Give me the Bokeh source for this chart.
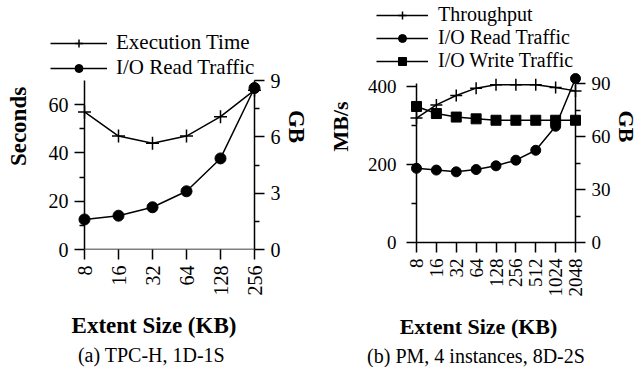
from bokeh.plotting import figure
from bokeh.models import Range1d, LinearAxis, FixedTicker, Legend, LegendItem, Title
from bokeh.layouts import row
from bokeh.embed import file_html
from bokeh.resources import INLINE
import math

FONT = "Liberation Serif"

# ---- (a) TPC-H, 1D-1S ----
extent_a = [8, 16, 32, 64, 128, 256]
exec_time_s = [57, 47, 44, 47, 55, 66]
read_gb_a = [1.6, 1.8, 2.25, 3.1, 4.85, 8.6]
y_ticks_a = [0, 20, 40, 60]
y_minor_a = [10, 30, 50]
gb_ticks_a = [0, 3, 6, 9]
gb_minor_a = [1.5, 4.5, 7.5]

# ---- (b) PM, 4 instances, 8D-2S ----
extent_b = [8, 16, 32, 64, 128, 256, 512, 1024, 2048]
throughput = [320, 354, 378, 397, 406, 406, 406, 399, 390]
read_gb_b = [42, 41, 40, 41.3, 43.4, 46.6, 52.2, 65.8, 92.8]
write_gb_b = [77, 73, 71, 70, 69.2, 69.2, 69.2, 69.2, 69.2]
y_ticks_b = [0, 200, 400]
y_minor_b = [100, 300]
gb_ticks_b = [0, 30, 60, 90]
gb_minor_b = [15, 45, 75]

FRAME_TOP = 3
FRAME_BOTTOM = 249


def style_axis(ax, fs, lfs, pad, standoff):
    ax.axis_line_color = None
    ax.major_tick_line_color = "black"
    ax.major_tick_line_width = 1.5
    ax.minor_tick_line_color = "black"
    ax.minor_tick_line_width = 1.5
    ax.major_tick_in = pad
    ax.major_tick_out = 10 - pad
    ax.minor_tick_in = pad
    ax.minor_tick_out = 5 - pad
    ax.major_label_text_font = FONT
    ax.major_label_text_font_size = fs
    ax.major_label_text_color = "black"
    ax.major_label_standoff = standoff
    ax.axis_label_text_font = FONT
    ax.axis_label_text_font_size = lfs
    ax.axis_label_text_font_style = "bold"
    ax.axis_label_text_color = "black"


def make_fig(extents, y_max, gb_max, data_box, frame_lr, fig_left, fig_width,
             fs, lfs, y_standoff):
    dl, dr, dt, db = data_box
    fl, fr = frame_lr
    pl, pr = dl - fl, fr - dr
    pt, pbt = dt - FRAME_TOP, FRAME_BOTTOM - db
    plot_w, plot_h = dr - dl, db - dt
    octaves = math.log2(extents[-1] / extents[0])
    px_oct = plot_w / octaves
    x_lo = extents[0] / 2 ** (pl / px_oct)
    x_hi = extents[-1] * 2 ** (pr / px_oct)
    y_rng = Range1d(-y_max * pbt / plot_h, y_max * (1 + pt / plot_h))
    gb_rng = Range1d(-gb_max * pbt / plot_h, gb_max * (1 + pt / plot_h))
    p = figure(title=None, x_axis_type="log", x_range=Range1d(x_lo, x_hi),
               y_range=y_rng, frame_width=fr - fl,
               frame_height=FRAME_BOTTOM - FRAME_TOP,
               min_border_left=fl - fig_left, min_border_right=fig_left + fig_width - fr,
               min_border_top=FRAME_TOP, min_border_bottom=112,
               output_backend="svg", toolbar_location=None)
    p.extra_y_ranges = {"gb": gb_rng}
    p.outline_line_color = None
    p.xgrid.visible = False
    p.ygrid.visible = False
    p.background_fill_color = None
    p.border_fill_color = None
    xa = p.xaxis[0]
    xa.ticker = FixedTicker(ticks=extents, minor_ticks=[])
    xa.major_label_overrides = {e: str(e) for e in extents}
    xa.major_label_orientation = math.pi / 2
    xa.axis_label = "Extent Size (KB)"
    xa.bounds = (extents[0], extents[-1])
    style_axis(xa, fs, lfs, pbt, 6)
    xa.axis_label_standoff = 14
    ya = p.yaxis[0]
    style_axis(ya, fs, lfs, pl, y_standoff)
    ya.bounds = (0, y_max)
    gba = LinearAxis(y_range_name="gb", axis_label="GB")
    style_axis(gba, fs, lfs, pr, 6)
    gba.bounds = (0, gb_max)
    p.add_layout(gba, "right")
    # axis lines: left, right, bottom
    p.segment(x0=[extents[0], extents[-1], extents[0]], y0=[0, 0, 0],
              x1=[extents[0], extents[-1], extents[-1]], y1=[y_max, y_max, 0],
              line_color="black", line_width=1.5)
    return p, ya, gba


def finish_legend(p, items, x, y, fs, gw, std, lh, sp):
    lg = Legend(items=items, location=(x, y))
    lg.border_line_color = None
    lg.background_fill_alpha = 0
    lg.padding = 0
    lg.margin = 0
    lg.spacing = sp
    lg.glyph_width = gw
    lg.glyph_height = lh
    lg.label_height = lh
    lg.label_standoff = std
    lg.label_text_font = FONT
    lg.label_text_font_size = fs
    lg.label_text_color = "black"
    p.add_layout(lg)


def caption(p, text):
    t = Title(text=text, text_font=FONT, text_font_size="20px", text_font_style="normal",
              align="center", text_color="black", standoff=3)
    p.add_layout(t, "below")


# ---------- figure (a) ----------
FL_A = 46
pa, ya_a, gb_a = make_fig(extent_a, 70, 9, (84, 254, 80, 249), (FL_A, 261), 0, 324,
                          "20px", "23px", 6)
ya_a.ticker = FixedTicker(ticks=y_ticks_a, minor_ticks=y_minor_a)
ya_a.axis_label = "Seconds"
ya_a.axis_label_standoff = 15
gb_a.ticker = FixedTicker(ticks=gb_ticks_a, minor_ticks=gb_minor_a)
gb_a.axis_label_standoff = 0

la1 = pa.line(extent_a, exec_time_s, line_color="black", line_width=1.5)
sa1 = pa.scatter(extent_a, exec_time_s, marker="cross", size=13, line_color="black", line_width=1.5)
la2 = pa.line(extent_a, read_gb_a, y_range_name="gb", line_color="black", line_width=1.5)
sa2 = pa.scatter(extent_a, read_gb_a, y_range_name="gb", marker="circle", size=11,
                 fill_color="black", line_color="black")
finish_legend(pa, [LegendItem(label="Execution Time", renderers=[la1, sa1]),
                   LegendItem(label="I/O Read Traffic", renderers=[la2, sa2])],
              50 - FL_A, FRAME_BOTTOM - 80, "21px", 57, 9, 20, -2)
caption(pa, "(a)  TPC-H, 1D-1S")

# ---------- figure (b) ----------
FL_B = 366
pb, ya_b, gb_b = make_fig(extent_b, 409, 90, (408, 567, 83, 242), (FL_B, 574), 324, 312,
                          "19px", "22px", 10)
ya_b.ticker = FixedTicker(ticks=y_ticks_b, minor_ticks=y_minor_b)
ya_b.axis_label = "MB/s"
ya_b.axis_label_standoff = 12
gb_b.ticker = FixedTicker(ticks=gb_ticks_b, minor_ticks=gb_minor_b)
gb_b.axis_label_standoff = 0

lb1 = pb.line(extent_b, throughput, line_color="black", line_width=1.5)
sb1 = pb.scatter(extent_b, throughput, marker="cross", size=12, line_color="black", line_width=1.5)
lb2 = pb.line(extent_b, read_gb_b, y_range_name="gb", line_color="black", line_width=1.5)
sb2 = pb.scatter(extent_b, read_gb_b, y_range_name="gb", marker="circle", size=10,
                 fill_color="black", line_color="black")
lb3 = pb.line(extent_b, write_gb_b, y_range_name="gb", line_color="black", line_width=1.5)
sb3 = pb.scatter(extent_b, write_gb_b, y_range_name="gb", marker="square", size=10,
                 fill_color="black", line_color="black")
finish_legend(pb, [LegendItem(label="Throughput", renderers=[lb1, sb1]),
                   LegendItem(label="I/O Read Traffic", renderers=[lb2, sb2]),
                   LegendItem(label="I/O Write Traffic", renderers=[lb3, sb3])],
              368 - FL_B, FRAME_BOTTOM - 72, "20px", 52, 10, 20, -1)
caption(pb, "(b)  PM, 4 instances, 8D-2S")

layout = row(pa, pb)
open("out.html", "w").write(file_html(layout, INLINE))
